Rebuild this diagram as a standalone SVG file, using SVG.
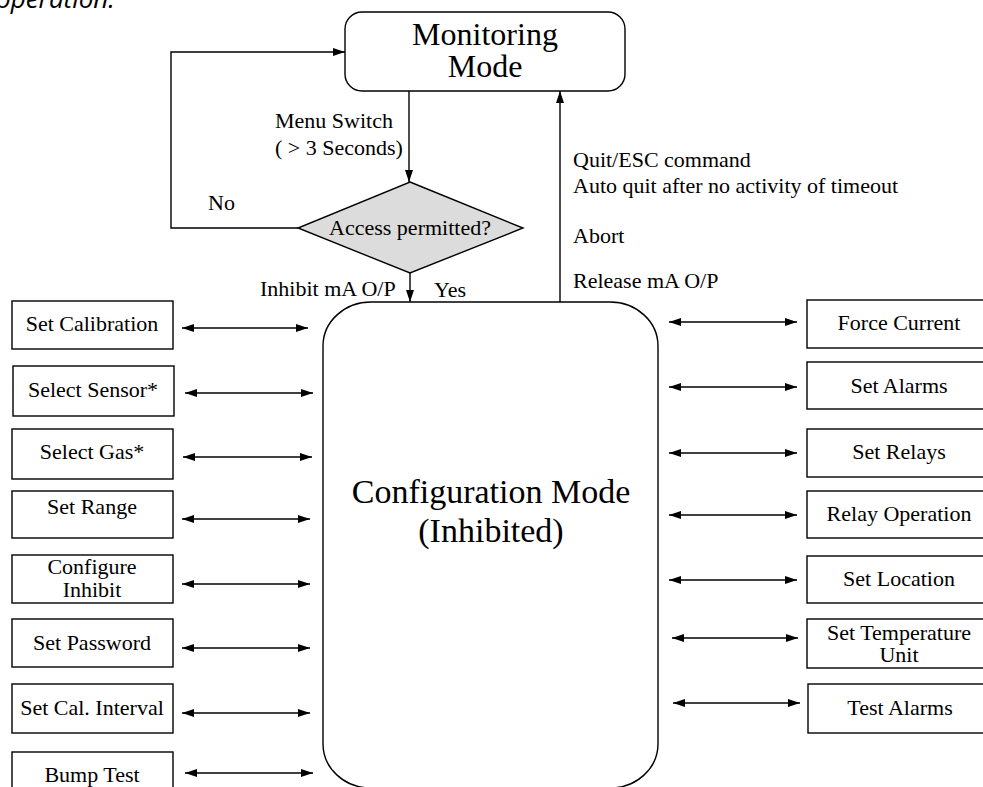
<svg xmlns="http://www.w3.org/2000/svg" width="983" height="787" viewBox="0 0 983 787">
<style>
.t{font-family:"Liberation Serif","Times New Roman",serif;font-size:22px;fill:#000}
.m{text-anchor:middle}
.big{font-size:32px}
.box{fill:#fff;stroke:#000;stroke-width:1.4}
.ln{fill:none;stroke:#000;stroke-width:1.4}
.hdr{font-family:"Open Sans","Noto Sans",sans-serif;font-style:italic;font-size:26px;fill:#000}
</style>
<defs>
<marker id="ah" markerUnits="userSpaceOnUse" markerWidth="12" markerHeight="8" refX="12" refY="4" orient="auto-start-reverse">
<path d="M0,0 L12,4 L0,8 z" fill="#000"/>
</marker>
</defs>
<rect width="983" height="787" fill="#fff"/>
<text class="hdr" x="-4" y="8">operation.</text>

<g id="connectors">
<path class="ln" d="M409,91 V182" marker-end="url(#ah)"/>
<path class="ln" d="M298,228 H171 V52 H345" marker-end="url(#ah)"/>
<path class="ln" d="M410,273 V302" marker-end="url(#ah)"/>
<path class="ln" d="M560,302 V91" marker-end="url(#ah)"/>
<path class="ln" d="M182,328 H308" marker-start="url(#ah)" marker-end="url(#ah)"/>
<path class="ln" d="M185,393 H313" marker-start="url(#ah)" marker-end="url(#ah)"/>
<path class="ln" d="M183,457 H312" marker-start="url(#ah)" marker-end="url(#ah)"/>
<path class="ln" d="M182,519 H310" marker-start="url(#ah)" marker-end="url(#ah)"/>
<path class="ln" d="M182,584 H310" marker-start="url(#ah)" marker-end="url(#ah)"/>
<path class="ln" d="M182,648 H310" marker-start="url(#ah)" marker-end="url(#ah)"/>
<path class="ln" d="M182,713 H310" marker-start="url(#ah)" marker-end="url(#ah)"/>
<path class="ln" d="M185,773 H313" marker-start="url(#ah)" marker-end="url(#ah)"/>
<path class="ln" d="M669,322 H797" marker-start="url(#ah)" marker-end="url(#ah)"/>
<path class="ln" d="M669,387 H797" marker-start="url(#ah)" marker-end="url(#ah)"/>
<path class="ln" d="M669,453 H797" marker-start="url(#ah)" marker-end="url(#ah)"/>
<path class="ln" d="M669,515 H797" marker-start="url(#ah)" marker-end="url(#ah)"/>
<path class="ln" d="M669,580 H797" marker-start="url(#ah)" marker-end="url(#ah)"/>
<path class="ln" d="M672,638 H798" marker-start="url(#ah)" marker-end="url(#ah)"/>
<path class="ln" d="M673,703 H800" marker-start="url(#ah)" marker-end="url(#ah)"/>
<text class="t" x="275" y="128">Menu Switch</text>
<text class="t" x="275" y="155">( &gt; 3 Seconds)</text>
<text class="t" x="208" y="210">No</text>
<text class="t" x="260" y="296">Inhibit mA O/P</text>
<text class="t" x="434" y="297">Yes</text>
<text class="t" x="573" y="167">Quit/ESC command</text>
<text class="t" x="573" y="193">Auto quit after no activity of timeout</text>
<text class="t" x="573" y="243">Abort</text>
<text class="t" x="573" y="288">Release mA O/P</text>
</g>

<g id="monitoring">
<rect class="box" x="345" y="12" width="280" height="79" rx="17"/>
<text class="t big m" x="485" y="45">Monitoring</text>
<text class="t big m" x="485" y="77">Mode</text>
</g>

<g id="access">
<polygon points="410,182 523,228 410,273 298,228" fill="#dcdcdc" stroke="#000" stroke-width="1.4"/>
<text class="t m" x="410" y="235">Access permitted?</text>
</g>

<g id="config">
<rect class="box" x="323" y="302" width="335" height="486" rx="48" ry="44"/>
<text class="t big m" x="491" y="503" style="font-size:34px">Configuration Mode</text>
<text class="t big m" x="491" y="542" style="font-size:34px">(Inhibited)</text>
</g>

<g id="set-calibration"><rect class="box" x="12" y="301" width="161" height="48"/><text class="t m" x="92" y="331">Set Calibration</text></g>
<g id="select-sensor"><rect class="box" x="13" y="366" width="161" height="50"/><text class="t m" x="93" y="397">Select Sensor*</text></g>
<g id="select-gas"><rect class="box" x="12" y="429" width="161" height="50"/><text class="t m" x="92" y="459">Select Gas*</text></g>
<g id="set-range"><rect class="box" x="12" y="491" width="161" height="47"/><text class="t m" x="92" y="514">Set Range</text></g>
<g id="configure-inhibit"><rect class="box" x="12" y="555" width="161" height="48"/><text class="t m" x="92" y="574">Configure</text><text class="t m" x="92" y="597">Inhibit</text></g>
<g id="set-password"><rect class="box" x="12" y="619" width="161" height="48"/><text class="t m" x="92" y="650">Set Password</text></g>
<g id="set-cal-interval"><rect class="box" x="12" y="684" width="161" height="49"/><text class="t m" x="92" y="715">Set Cal. Interval</text></g>
<g id="bump-test"><rect class="box" x="12" y="752" width="161" height="45"/><text class="t m" x="92" y="782">Bump Test</text></g>

<g id="force-current"><rect class="box" x="807" y="300" width="190" height="48"/><text class="t m" x="899" y="330">Force Current</text></g>
<g id="set-alarms"><rect class="box" x="807" y="362" width="190" height="47"/><text class="t m" x="899" y="393">Set Alarms</text></g>
<g id="set-relays"><rect class="box" x="807" y="429" width="190" height="48"/><text class="t m" x="899" y="459">Set Relays</text></g>
<g id="relay-operation"><rect class="box" x="807" y="491" width="190" height="47"/><text class="t m" x="899" y="521">Relay Operation</text></g>
<g id="set-location"><rect class="box" x="807" y="556" width="190" height="47"/><text class="t m" x="899" y="586">Set Location</text></g>
<g id="set-temperature-unit"><rect class="box" x="807" y="619" width="190" height="49"/><text class="t m" x="899" y="640">Set Temperature</text><text class="t m" x="899" y="662">Unit</text></g>
<g id="test-alarms"><rect class="box" x="808" y="684" width="190" height="49"/><text class="t m" x="900" y="715">Test Alarms</text></g>
</svg>
